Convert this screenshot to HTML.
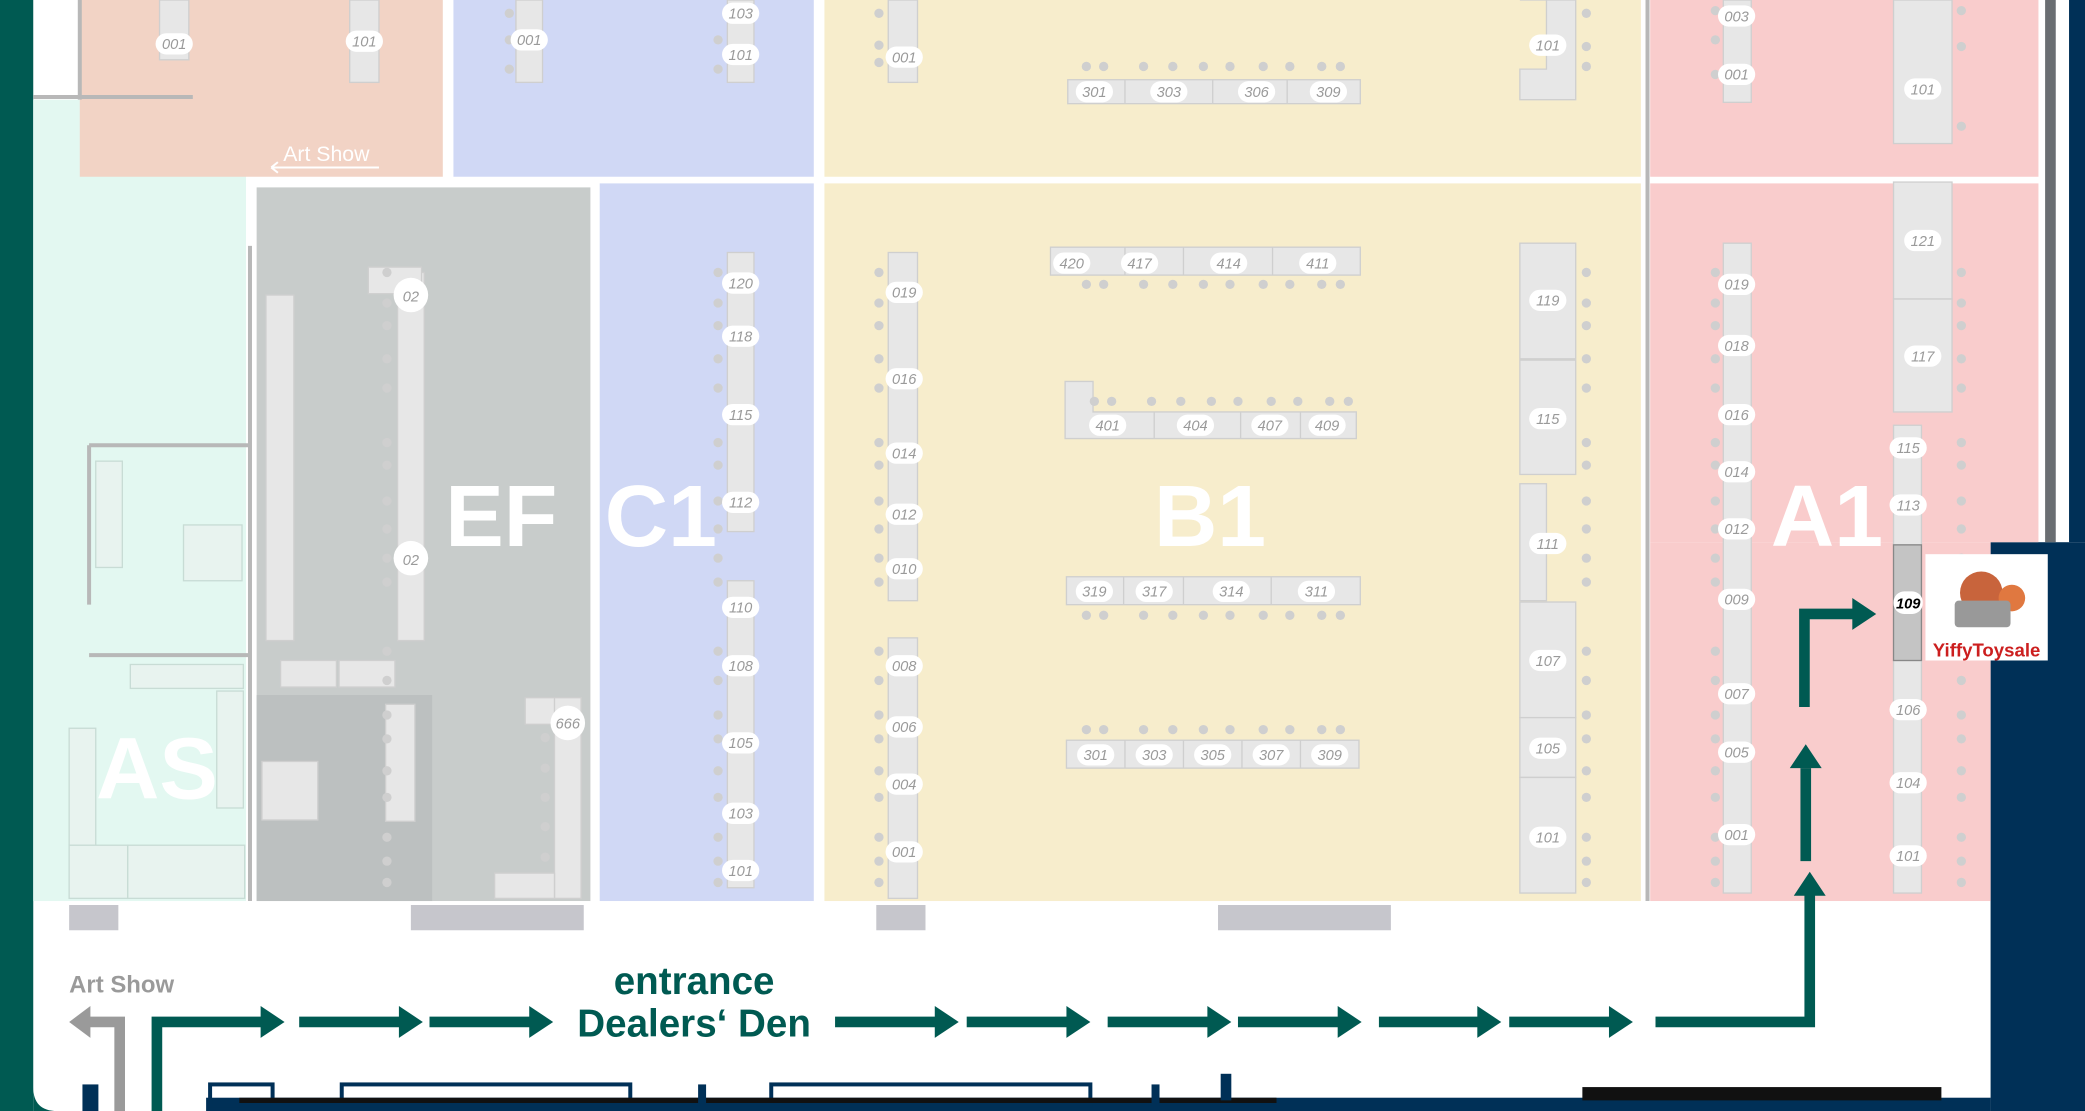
<!DOCTYPE html>
<html><head><meta charset="utf-8"><style>
html,body{margin:0;padding:0;background:#fff;}
svg{display:block}
text{font-family:"Liberation Sans",sans-serif}
.l{font-size:11px;font-style:italic;fill:#9a9a9a;text-anchor:middle}
.big{font-size:66px;font-weight:bold;fill:#fff;text-anchor:middle}
.b{fill:#e7e7e7;stroke:#cfcfcf;stroke-width:1}
.d{fill:#cfcfcf}
</style></head><body>
<svg width="2085" height="1111" viewBox="0 0 1568 836" preserveAspectRatio="none" xmlns="http://www.w3.org/2000/svg">
<defs>
<g id="pill"><rect x="-14" y="-8" width="28" height="16" rx="8" fill="#fff"/></g>
</defs>
<rect width="1568" height="836" fill="#fff"/>
<rect x="0" y="0" width="25" height="836" fill="#005a52"/>
<path d="M25 818 Q25 836 43 836 L25 836Z" fill="#005a52"/>
<rect x="1497" y="408" width="71" height="428" fill="#003057"/>
<rect x="1538" y="0" width="8" height="408" fill="#6a6e72"/>
<rect x="1556" y="0" width="12" height="408" fill="#003057"/>
<rect x="25" y="75" width="160" height="603" fill="#e3f8f1"/>
<rect x="60" y="0" width="273" height="133" fill="#f2d3c5"/>
<rect x="341" y="0" width="271" height="133" fill="#d0d8f5"/>
<rect x="193" y="141" width="251" height="537" fill="#c8cccb"/>
<rect x="193" y="523" width="132" height="155" fill="#bcc0c0"/>
<rect x="451" y="138" width="161" height="540" fill="#d0d8f5"/>
<rect x="620" y="0" width="614" height="133" fill="#f7edcc"/>
<rect x="620" y="138" width="614" height="540" fill="#f7edcc"/>
<rect x="1241" y="0" width="292" height="133" fill="#f9cccc"/>
<rect x="1241" y="138" width="292" height="270" fill="#f9cccc"/>
<rect x="1241" y="408" width="256" height="270" fill="#f9cccc"/>
<g stroke="#b8b8b8" stroke-width="3" fill="none">
<path d="M25 73 H145 M60 0 V75 M188 185 V678 M1239 0 V678"/>
<path d="M67 335 H188 M67 335 V455 M67 493 H188"/>
</g>
<g fill="#e8f3ef" stroke="#c8dcd5">
<rect x="72" y="347" width="20" height="80"/><rect x="138" y="395" width="44" height="42"/>
<rect x="98" y="500" width="85" height="18"/><rect x="52" y="548" width="20" height="128"/>
<rect x="96" y="636" width="88" height="40"/><rect x="52" y="636" width="44" height="40"/><rect x="163" y="520" width="20" height="88"/>
</g>
<g fill="#c6c6cc"><rect x="52" y="681" width="37" height="19"/><rect x="309" y="681" width="130" height="19"/><rect x="659" y="681" width="37" height="19"/><rect x="916" y="681" width="130" height="19"/></g>
<text x="213" y="121" font-size="16" fill="#fff">Art Show</text>
<path d="M204 126 H285 M204 126 l5 -4 M204 126 l5 4" stroke="#fff" stroke-width="1.5" fill="none"/>
<g class="b">
<rect x="120" y="0" width="22" height="45"/><rect x="263" y="0" width="22" height="62"/>
<rect x="388" y="0" width="20" height="62"/>
<rect x="547" y="0" width="20" height="62"/><rect x="547" y="190" width="20" height="210"/><rect x="547" y="437" width="20" height="231"/>
<rect x="668" y="0" width="22" height="62"/><rect x="668" y="190" width="22" height="262"/><rect x="668" y="480" width="22" height="196"/>
<rect x="803" y="60" width="220" height="18"/><rect x="790" y="186" width="233" height="21"/>
<path d="M801 287 H822 V310 H1020 V330 H801Z"/>
<rect x="802" y="434" width="221" height="21"/><rect x="802" y="557" width="220" height="21"/>
<path d="M1143 0 H1185 V75 H1143 V52 H1163 V0Z"/>
<rect x="1143" y="183" width="42" height="87"/><rect x="1143" y="271" width="42" height="86"/><rect x="1143" y="364" width="20" height="88"/>
<rect x="1143" y="453" width="42" height="87"/><rect x="1143" y="540" width="42" height="45"/><rect x="1143" y="585" width="42" height="87"/>
<rect x="1296" y="0" width="21" height="77"/><rect x="1296" y="183" width="21" height="489"/>
<rect x="1424" y="0" width="44" height="108"/><rect x="1424" y="137" width="44" height="88"/><rect x="1424" y="225" width="44" height="85"/>
<rect x="1424" y="320" width="21" height="90"/><rect x="1424" y="497" width="21" height="175"/>
<rect x="200" y="222" width="21" height="260"/><rect x="299" y="205" width="20" height="277"/><rect x="277" y="201" width="40" height="20"/>
<rect x="211" y="497" width="42" height="20"/><rect x="255" y="497" width="42" height="20"/>
<rect x="395" y="525" width="42" height="20"/><rect x="417" y="525" width="20" height="151"/><rect x="372" y="657" width="45" height="19"/>
<rect x="197" y="573" width="42" height="44"/><rect x="290" y="530" width="22" height="88"/>
</g>
<rect x="1424" y="410" width="21" height="87" fill="#c4c4c4" stroke="#888"/>
<g stroke="#cfcfcf"><path d="M846 60V78M912 60V78M968 60V78M846 186V207M890 186V207M957 186V207M868 310V330M933 310V330M978 310V330M845 434V455M890 434V455M956 434V455M846 557V578M890 557V578M934 557V578M978 557V578"/></g>
<g class="d">
<circle cx="661" cy="10" r="3.5"/><circle cx="661" cy="34" r="3.5"/><circle cx="661" cy="47" r="3.5"/>
<circle cx="383" cy="10" r="3.5"/><circle cx="383" cy="30" r="3.5"/><circle cx="383" cy="52" r="3.5"/>
<circle cx="540" cy="30" r="3.5"/><circle cx="540" cy="52" r="3.5"/>
<circle cx="1193" cy="10" r="3.5"/><circle cx="1193" cy="35" r="3.5"/><circle cx="1193" cy="50" r="3.5"/>
<circle cx="1290" cy="8" r="3.5"/><circle cx="1290" cy="30" r="3.5"/><circle cx="1290" cy="56" r="3.5"/>
<circle cx="1475" cy="8" r="3.5"/><circle cx="1475" cy="35" r="3.5"/><circle cx="1475" cy="95" r="3.5"/>
<circle cx="410" cy="555" r="3.5"/><circle cx="410" cy="578" r="3.5"/><circle cx="410" cy="600" r="3.5"/><circle cx="410" cy="622" r="3.5"/><circle cx="410" cy="645" r="3.5"/>
</g>
<g class="d" id="dotsrow">
<circle cx="817" cy="50" r="3.5"/><circle cx="830" cy="50" r="3.5"/><circle cx="860" cy="50" r="3.5"/><circle cx="882" cy="50" r="3.5"/><circle cx="905" cy="50" r="3.5"/><circle cx="925" cy="50" r="3.5"/><circle cx="950" cy="50" r="3.5"/><circle cx="970" cy="50" r="3.5"/><circle cx="994" cy="50" r="3.5"/><circle cx="1008" cy="50" r="3.5"/>
</g>
<use href="#dotsrow" y="164"/><use href="#dotsrow" y="252" x="6"/><use href="#dotsrow" y="413"/><use href="#dotsrow" y="499"/>
<g class="d" id="dcol">
<circle cx="661" cy="205" r="3.5"/><circle cx="661" cy="228" r="3.5"/><circle cx="661" cy="245" r="3.5"/><circle cx="661" cy="270" r="3.5"/><circle cx="661" cy="292" r="3.5"/><circle cx="661" cy="333" r="3.5"/><circle cx="661" cy="350" r="3.5"/><circle cx="661" cy="377" r="3.5"/><circle cx="661" cy="398" r="3.5"/><circle cx="661" cy="420" r="3.5"/><circle cx="661" cy="438" r="3.5"/>
<circle cx="661" cy="490" r="3.5"/><circle cx="661" cy="512" r="3.5"/><circle cx="661" cy="538" r="3.5"/><circle cx="661" cy="556" r="3.5"/><circle cx="661" cy="580" r="3.5"/><circle cx="661" cy="600" r="3.5"/><circle cx="661" cy="630" r="3.5"/><circle cx="661" cy="648" r="3.5"/><circle cx="661" cy="664" r="3.5"/>
</g>
<use href="#dcol" x="-121"/><use href="#dcol" x="532"/><use href="#dcol" x="629"/><use href="#dcol" x="814"/><use href="#dcol" x="-370"/>
<g>
<use href="#pill" x="131" y="33"/><text class="l" x="131" y="37">001</text>
<use href="#pill" x="274" y="31"/><text class="l" x="274" y="35">101</text>
<use href="#pill" x="398" y="30"/><text class="l" x="398" y="34">001</text>
<use href="#pill" x="557" y="10"/><text class="l" x="557" y="14">103</text>
<use href="#pill" x="557" y="41"/><text class="l" x="557" y="45">101</text>
<use href="#pill" x="557" y="213"/><text class="l" x="557" y="217">120</text>
<use href="#pill" x="557" y="253"/><text class="l" x="557" y="257">118</text>
<use href="#pill" x="557" y="312"/><text class="l" x="557" y="316">115</text>
<use href="#pill" x="557" y="378"/><text class="l" x="557" y="382">112</text>
<use href="#pill" x="557" y="457"/><text class="l" x="557" y="461">110</text>
<use href="#pill" x="557" y="501"/><text class="l" x="557" y="505">108</text>
<use href="#pill" x="557" y="559"/><text class="l" x="557" y="563">105</text>
<use href="#pill" x="557" y="612"/><text class="l" x="557" y="616">103</text>
<use href="#pill" x="557" y="655"/><text class="l" x="557" y="659">101</text>
<use href="#pill" x="680" y="43"/><text class="l" x="680" y="47">001</text>
<use href="#pill" x="680" y="220"/><text class="l" x="680" y="224">019</text>
<use href="#pill" x="680" y="285"/><text class="l" x="680" y="289">016</text>
<use href="#pill" x="680" y="341"/><text class="l" x="680" y="345">014</text>
<use href="#pill" x="680" y="387"/><text class="l" x="680" y="391">012</text>
<use href="#pill" x="680" y="428"/><text class="l" x="680" y="432">010</text>
<use href="#pill" x="680" y="501"/><text class="l" x="680" y="505">008</text>
<use href="#pill" x="680" y="547"/><text class="l" x="680" y="551">006</text>
<use href="#pill" x="680" y="590"/><text class="l" x="680" y="594">004</text>
<use href="#pill" x="680" y="641"/><text class="l" x="680" y="645">001</text>
<use href="#pill" x="823" y="69"/><text class="l" x="823" y="73">301</text>
<use href="#pill" x="879" y="69"/><text class="l" x="879" y="73">303</text>
<use href="#pill" x="945" y="69"/><text class="l" x="945" y="73">306</text>
<use href="#pill" x="999" y="69"/><text class="l" x="999" y="73">309</text>
<use href="#pill" x="806" y="198"/><text class="l" x="806" y="202">420</text>
<use href="#pill" x="857" y="198"/><text class="l" x="857" y="202">417</text>
<use href="#pill" x="924" y="198"/><text class="l" x="924" y="202">414</text>
<use href="#pill" x="991" y="198"/><text class="l" x="991" y="202">411</text>
<use href="#pill" x="833" y="320"/><text class="l" x="833" y="324">401</text>
<use href="#pill" x="899" y="320"/><text class="l" x="899" y="324">404</text>
<use href="#pill" x="955" y="320"/><text class="l" x="955" y="324">407</text>
<use href="#pill" x="998" y="320"/><text class="l" x="998" y="324">409</text>
<use href="#pill" x="823" y="445"/><text class="l" x="823" y="449">319</text>
<use href="#pill" x="868" y="445"/><text class="l" x="868" y="449">317</text>
<use href="#pill" x="926" y="445"/><text class="l" x="926" y="449">314</text>
<use href="#pill" x="990" y="445"/><text class="l" x="990" y="449">311</text>
<use href="#pill" x="824" y="568"/><text class="l" x="824" y="572">301</text>
<use href="#pill" x="868" y="568"/><text class="l" x="868" y="572">303</text>
<use href="#pill" x="912" y="568"/><text class="l" x="912" y="572">305</text>
<use href="#pill" x="956" y="568"/><text class="l" x="956" y="572">307</text>
<use href="#pill" x="1000" y="568"/><text class="l" x="1000" y="572">309</text>
<use href="#pill" x="1164" y="34"/><text class="l" x="1164" y="38">101</text>
<use href="#pill" x="1164" y="226"/><text class="l" x="1164" y="230">119</text>
<use href="#pill" x="1164" y="315"/><text class="l" x="1164" y="319">115</text>
<use href="#pill" x="1164" y="409"/><text class="l" x="1164" y="413">111</text>
<use href="#pill" x="1164" y="497"/><text class="l" x="1164" y="501">107</text>
<use href="#pill" x="1164" y="563"/><text class="l" x="1164" y="567">105</text>
<use href="#pill" x="1164" y="630"/><text class="l" x="1164" y="634">101</text>
<use href="#pill" x="1306" y="12"/><text class="l" x="1306" y="16">003</text>
<use href="#pill" x="1306" y="56"/><text class="l" x="1306" y="60">001</text>
<use href="#pill" x="1306" y="214"/><text class="l" x="1306" y="218">019</text>
<use href="#pill" x="1306" y="260"/><text class="l" x="1306" y="264">018</text>
<use href="#pill" x="1306" y="312"/><text class="l" x="1306" y="316">016</text>
<use href="#pill" x="1306" y="355"/><text class="l" x="1306" y="359">014</text>
<use href="#pill" x="1306" y="398"/><text class="l" x="1306" y="402">012</text>
<use href="#pill" x="1306" y="451"/><text class="l" x="1306" y="455">009</text>
<use href="#pill" x="1306" y="522"/><text class="l" x="1306" y="526">007</text>
<use href="#pill" x="1306" y="566"/><text class="l" x="1306" y="570">005</text>
<use href="#pill" x="1306" y="628"/><text class="l" x="1306" y="632">001</text>
<use href="#pill" x="1446" y="67"/><text class="l" x="1446" y="71">101</text>
<use href="#pill" x="1446" y="181"/><text class="l" x="1446" y="185">121</text>
<use href="#pill" x="1446" y="268"/><text class="l" x="1446" y="272">117</text>
<use href="#pill" x="1435" y="337"/><text class="l" x="1435" y="341">115</text>
<use href="#pill" x="1435" y="380"/><text class="l" x="1435" y="384">113</text>
<use href="#pill" x="1435" y="534"/><text class="l" x="1435" y="538">106</text>
<use href="#pill" x="1435" y="589"/><text class="l" x="1435" y="593">104</text>
<use href="#pill" x="1435" y="644"/><text class="l" x="1435" y="648">101</text>
<rect x="1424" y="445" width="22" height="17" rx="8" fill="#fff"/><text x="1435" y="458" font-size="11" font-style="italic" font-weight="bold" text-anchor="middle" fill="#000">109</text>
<circle cx="309" cy="222" r="13" fill="#fff"/><text class="l" x="309" y="227" font-size="13">02</text>
<circle cx="309" cy="420" r="13" fill="#fff"/><text class="l" x="309" y="425" font-size="13">02</text>
<circle cx="427" cy="544" r="13" fill="#fff"/><text class="l" x="427" y="548" font-size="12">666</text>
</g>
<text class="big" x="377" y="411">EF</text>
<text class="big" x="497" y="411">C1</text>
<text class="big" x="910" y="411">B1</text>
<text class="big" x="1374" y="411">A1</text>
<text class="big" x="118" y="601">AS</text>
<rect x="1448" y="417" width="92" height="80" fill="#fff"/>
<circle cx="1490" cy="446" r="16" fill="#c8643c"/><circle cx="1513" cy="450" r="10" fill="#e07840"/>
<rect x="1470" y="452" width="42" height="20" fill="#999" rx="3"/>
<text x="1494" y="494" font-size="14" font-weight="bold" fill="#cc1f1f" text-anchor="middle">YiffyToysale</text>
<text x="52" y="747" font-size="18" font-weight="bold" fill="#9a9a9a">Art Show</text>
<text x="522" y="748" font-size="29" font-weight="bold" fill="#005a52" text-anchor="middle">entrance</text>
<text x="522" y="780" font-size="29" font-weight="bold" fill="#005a52" text-anchor="middle">Dealers‘ Den</text>
<g stroke="#005a52" stroke-width="8" fill="none">
<path d="M118 836 V769 H198"/><path d="M225 769 H302"/><path d="M323 769 H400"/><path d="M628 769 H705"/><path d="M727 769 H804"/><path d="M833 769 H910"/><path d="M931 769 H1008"/><path d="M1037 769 H1113"/><path d="M1135 769 H1212"/>
<path d="M1245 769 H1361 V672"/><path d="M1358 648 V578"/><path d="M1357 532 V462 H1395"/>
</g>
<g fill="#005a52">
<path d="M196 757 L214 769 L196 781Z"/><path d="M300 757 L318 769 L300 781Z"/><path d="M398 757 L416 769 L398 781Z"/><path d="M703 757 L721 769 L703 781Z"/><path d="M802 757 L820 769 L802 781Z"/><path d="M908 757 L926 769 L908 781Z"/><path d="M1006 757 L1024 769 L1006 781Z"/><path d="M1111 757 L1129 769 L1111 781Z"/><path d="M1210 757 L1228 769 L1210 781Z"/>
<path d="M1349 674 L1361 656 L1373 674Z"/><path d="M1346 578 L1358 560 L1370 578Z"/><path d="M1393 450 L1411 462 L1393 474Z"/>
</g>
<path d="M90 836 V769 H66" stroke="#9a9a9a" stroke-width="8" fill="none"/>
<path d="M68 757 L52 769 L68 781Z" fill="#9a9a9a"/>
<g fill="#003057">
<rect x="155" y="826" width="1342" height="10"/>
<rect x="62" y="816" width="12" height="20"/>
</g>
<g fill="none" stroke="#003057" stroke-width="3">
<rect x="158" y="816" width="47" height="16"/><rect x="257" y="816" width="217" height="16"/><rect x="580" y="816" width="240" height="16"/>
</g>
<path d="M180 828 H960" stroke="#111" stroke-width="4"/>
<rect x="1190" y="818" width="270" height="10" fill="#111"/>
<rect x="918" y="808" width="8" height="20" fill="#003057"/>
<rect x="525" y="816" width="6" height="16" fill="#003057"/><rect x="866" y="816" width="6" height="16" fill="#003057"/>
</svg>
</body></html>
